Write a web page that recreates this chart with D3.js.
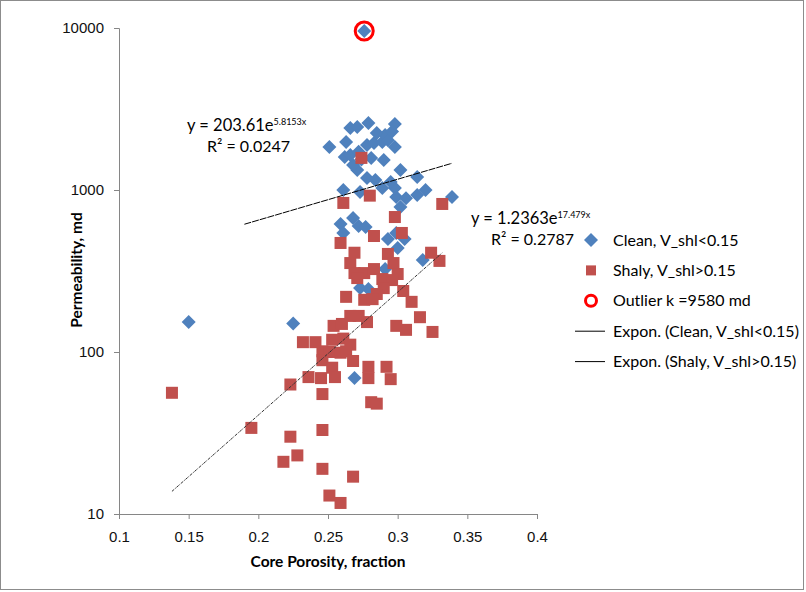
<!DOCTYPE html>
<html>
<head>
<meta charset="utf-8">
<script src="https://cdn.jsdelivr.net/npm/d3@7"></script>
<style>
  body { margin: 0; background: #fff; }
  svg { font-family: "Lato", "Open Sans", sans-serif; }
</style>
</head>
<body>
<div id="container"></div>
<script>
let w = 806;
let h = 592;

// clean sands (V_shl < 0.15): porosity, permeability md
let cleanPhi = [0.150, 0.225, 0.269, 0.273, 0.279, 0.291, 0.318, 0.300, 0.293, 0.305,
  0.299, 0.259, 0.261, 0.268, 0.272, 0.277, 0.302, 0.339, 0.320, 0.314,
  0.299, 0.298, 0.289, 0.295, 0.284, 0.278, 0.261, 0.273, 0.314, 0.302,
  0.271, 0.268, 0.262, 0.266, 0.281, 0.290, 0.298, 0.278, 0.283, 0.289,
  0.291, 0.285, 0.263, 0.251, 0.266, 0.271, 0.279, 0.298, 0.272, 0.293, 0.296,
  0.274, 0.306];
let cleanK = [153, 150, 69, 248, 245, 325, 370, 439, 499, 499,
  543, 617, 543, 671, 600, 592, 785, 906, 1000, 931,
  906, 1028, 1028, 1120, 1153, 1185, 1000, 972, 1202, 1328,
  1328, 1426, 1600, 1644, 1578, 1532, 1843, 1897, 1950, 1980,
  2188, 2249, 1980, 1843, 2415, 2449, 2594, 2553, 1720, 2030, 2300,
  1540, 890];

// shaly sands (V_shl > 0.15)
let shalyPhi = [0.274, 0.261, 0.280, 0.332, 0.298, 0.303, 0.283, 0.259, 0.269, 0.293,
  0.324, 0.330, 0.266, 0.297, 0.269, 0.276, 0.283, 0.300, 0.271, 0.289,
  0.296, 0.290, 0.304, 0.285, 0.263, 0.276, 0.282, 0.310, 0.316, 0.266,
  0.272, 0.254, 0.260, 0.278, 0.299, 0.306, 0.325, 0.232, 0.241, 0.253,
  0.261, 0.266, 0.246, 0.251, 0.259, 0.263, 0.246, 0.268, 0.253, 0.279,
  0.292, 0.236, 0.245, 0.255, 0.279, 0.295, 0.223, 0.138, 0.246, 0.281,
  0.285, 0.195, 0.223, 0.246, 0.228, 0.218, 0.246, 0.268, 0.251, 0.259];
let shalyK = [1578, 832, 923, 820, 681, 543, 520, 471, 410, 403,
  410, 365, 354, 354, 307, 307, 325, 303, 286, 282,
  278, 248, 238, 228, 219, 210, 212, 204, 164, 167,
  167, 145, 149, 153, 145, 137, 133, 115, 115, 119,
  121, 111, 101, 100, 99, 101, 89, 88, 80, 81,
  81, 70, 69, 70, 69, 68, 63, 56, 55, 49,
  48, 34, 30, 33, 23, 21, 19, 17, 13, 11.7];

let outlierPhi = [0.276];
let outlierK = [9580];

// exponential trend lines y = a * e^(b x), over each series' fitted range
let trendA = [203.61, 1.2363];
let trendB = [5.8153, 17.479];
let trendX = [[0.19, 0.339], [0.138, 0.332]];
let trendEq = [["y = 203.61e", "5.8153x", "R\u00b2 = 0.0247"], ["y = 1.2363e", "17.479x", "R\u00b2 = 0.2787"]];

let xTicks = [0.1, 0.15, 0.2, 0.25, 0.3, 0.35, 0.4];
let yTicks = [10, 100, 1000, 10000];

let legendItems = ["Clean, V_shl<0.15", "Shaly, V_shl>0.15", "Outlier k =9580 md",
  "Expon. (Clean, V_shl<0.15)", "Expon. (Shaly, V_shl>0.15)"];

let blue = "#4f81bd";
let red = "#c0504d";

let viz = d3.select('#container')
  .append('svg')
    .attr('width', w)
    .attr('height', h)
;

viz.append("rect")
  .attr("x", 0.5).attr("y", 0.5)
  .attr("width", w - 3).attr("height", h - 3)
  .attr("fill", "white")
  .attr("stroke", "#8c8c8c");

let x = d3.scaleLinear().domain([0.1, 0.4]).range([119, 537]);
let y = d3.scaleLog().domain([10, 10000]).range([514, 28]);

let yAxis = d3.axisLeft(y).tickValues(yTicks).tickFormat(d3.format("d")).tickSize(5).tickPadding(10);
let xAxis = d3.axisBottom(x).tickValues(xTicks).tickFormat(d => d).tickSize(5).tickPadding(12);

let yg = viz.append("g").attr("transform", "translate(119,0)").call(yAxis);
let xg = viz.append("g").attr("transform", "translate(0,514)").call(xAxis);
[yg, xg].forEach(function(g){
  g.select(".domain").attr("stroke", "#868686");
  g.selectAll(".tick line").attr("stroke", "#868686");
  g.selectAll(".tick text").attr("fill", "#111").style("font-size", "15px")
    .style("font-family", "'Liberation Sans', Arial, sans-serif");
});

viz.append("text")
  .attr("transform", "translate(82,270) rotate(-90)")
  .attr("text-anchor", "middle")
  .style("font-size", "15.5px").style("font-weight", "bold")
  .text("Permeability, md");

viz.append("text")
  .attr("x", 328).attr("y", 567)
  .attr("text-anchor", "middle")
  .style("font-size", "15.5px").style("font-weight", "bold")
  .text("Core Porosity, fraction");

let clean = cleanPhi.map((p, i) => ({ p: p, k: cleanK[i] }));
let shaly = shalyPhi.map((p, i) => ({ p: p, k: shalyK[i] }));
let outl = outlierPhi.map((p, i) => ({ p: p, k: outlierK[i] }));

let diamond = d3.symbol().type(d3.symbolSquare).size(98);

viz.append("g").selectAll("path").data(clean.concat(outl)).enter().append("path")
  .attr("d", diamond)
  .attr("transform", d => "translate(" + x(d.p) + "," + y(d.k) + ") rotate(45)")
  .attr("fill", blue);

viz.append("g").selectAll("rect").data(shaly).enter().append("rect")
  .attr("x", d => x(d.p) - 6)
  .attr("y", d => y(d.k) - 6)
  .attr("width", 12).attr("height", 12)
  .attr("fill", red);

viz.append("g").selectAll("circle").data(outl).enter().append("circle")
  .attr("cx", d => x(d.p)).attr("cy", d => y(d.k))
  .attr("r", 9)
  .attr("fill", "none")
  .attr("stroke", "#ff0000")
  .attr("stroke-width", 3);

// trend lines
let line = d3.line().x(d => x(d[0])).y(d => y(d[1]));
trendA.forEach(function(a, i){
  let pts = trendX[i].map(v => [v, a * Math.exp(trendB[i] * v)]);
  viz.append("path")
    .attr("d", line(pts))
    .attr("fill", "none")
    .attr("stroke", i == 0 ? "#000" : "#333")
    .attr("stroke-width", 1)
    .attr("stroke-dasharray", i == 0 ? "7,1" : "3,1,1,1");
});

// equation labels
let eqPos = [[187, 131], [471, 224]];
trendEq.forEach(function(e, i){
  let t = viz.append("text").attr("x", eqPos[i][0]).attr("y", eqPos[i][1]).style("font-size", "16.5px");
  t.append("tspan").text(e[0]);
  t.append("tspan").attr("dy", -6).style("font-size", "9px").text(e[1]);
  viz.append("text").attr("x", eqPos[i][0] + 20).attr("y", eqPos[i][1] + 20.5)
    .style("font-size", "16px").text(e[2]);
});

// legend
let lg = viz.append("g");
legendItems.forEach(function(label, i){
  let ly = 240 + i * 30.4;
  if (i == 0) {
    lg.append("path").attr("d", diamond).attr("transform", "translate(591," + ly + ") rotate(45)").attr("fill", blue);
  } else if (i == 1) {
    lg.append("rect").attr("x", 586).attr("y", ly - 5).attr("width", 10).attr("height", 10).attr("fill", red);
  } else if (i == 2) {
    lg.append("circle").attr("cx", 591).attr("cy", ly).attr("r", 5.5).attr("fill", "none")
      .attr("stroke", "#ff0000").attr("stroke-width", 3);
  } else {
    lg.append("line").attr("x1", 575).attr("x2", 605).attr("y1", ly).attr("y2", ly)
      .attr("stroke", "#000").attr("stroke-width", 1);
  }
  lg.append("text").attr("x", 613).attr("y", ly + 5.5).style("font-size", "16px").text(label);
});
</script>
</body>
</html>
